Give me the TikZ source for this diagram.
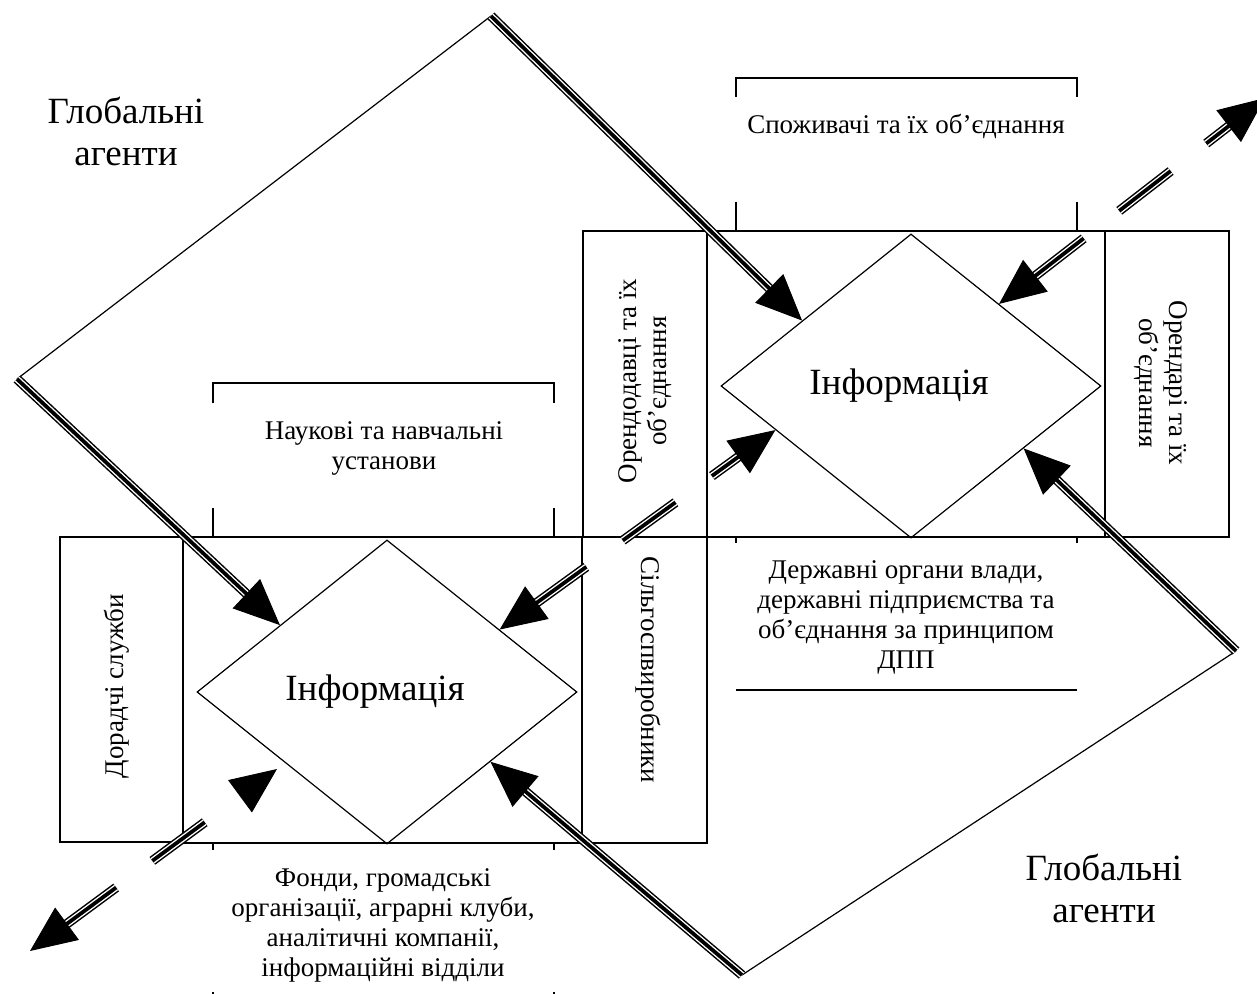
\documentclass[tikz,border=0pt]{standalone}
\usepackage{fontspec}
\setmainfont{Liberation Serif}
\usetikzlibrary{shapes.geometric,arrows.meta,calc}

\tikzset{
  thinline/.style={line width=0.6pt},
  infod/.style={draw, diamond, line width=0.6pt, minimum width=190pt, minimum height=152pt, inner sep=0pt, aspect=1.25},
  txts/.style={font=\fontsize{13.5}{15}\selectfont, align=center, inner sep=0pt},
  txtb/.style={font=\fontsize{18.5}{21}\selectfont, align=center, inner sep=0pt},
  tripl/.style={line width=4.8pt, postaction={draw, white, line width=3.3pt}, postaction={draw, black, line width=1.9pt}},
  brk/.style={dash pattern=on 31pt off 22.5pt on 32.5pt off 22.5pt},
  tiphead/.style={-{Triangle[length=23pt,width=20pt]}, line width=0.5pt},
}

\begin{document}
\begin{tikzpicture}[x=0.5pt,y=-0.5pt]
\path[use as bounding box, fill=white] (0,0) rectangle (1257,994);

% lower group of boxes
\draw[thinline] (60,537) rectangle (183,842);
\draw[thinline] (183,537) rectangle (582,843);
\draw[thinline] (582,537) rectangle (707,843);
% upper group of boxes
\draw[thinline] (583,231) rectangle (707,537);
\draw[thinline] (707,231) rectangle (1105,537);
\draw[thinline] (1105,231) rectangle (1229,537);

% brackets
\draw[thinline] (736,97) -- (736,78) -- (1077,78) -- (1077,97);
\draw[thinline] (736,202) -- (736,231);
\draw[thinline] (1077,202) -- (1077,231);
\draw[thinline] (213,403) -- (213,383) -- (554,383) -- (554,403);
\draw[thinline] (213,508) -- (213,537);
\draw[thinline] (554,508) -- (554,537);
\draw[thinline] (736,537) -- (736,543);
\draw[thinline] (1077,537) -- (1077,543);
\draw[thinline] (736,690) -- (1077,690);
\draw[thinline] (213,843) -- (213,850);
\draw[thinline] (554,843) -- (554,850);
\draw[thinline] (213,992) -- (213,1000);
\draw[thinline] (554,992) -- (554,1000);

% information diamonds
\node[infod, label={[txtb, xshift=-6pt]center:Інформація}] (infoR) at (911,386) {};
\node[infod, label={[txtb, xshift=-6pt]center:Інформація}] (infoL) at (387,692) {};

% texts
\node[txtb] (gaTL) at (126,131) {Глобальні\\агенти};
\node[txtb] (gaBR) at (1104,888) {Глобальні\\агенти};
\node[txts] (spoz) at (906,126) {Споживачі та їх об’єднання};
\node[txts] (nauk) at (384,448) {Наукові та навчальні\\установи};
\node[txts] (derzh) at (906,617) {Державні органи влади,\\державні підприємства та\\об’єднання за принципом\\ДПП};
\node[txts] (fond) at (383,925) {Фонди, громадські\\організації, аграрні клуби,\\аналітичні компанії,\\інформаційні відділи};
\node[txts, rotate=90] (orendod) at (645,381) {Орендодавці та їх\\об’єднання};
\node[txts, rotate=-90] (orendar) at (1161,383) {Орендарі та їх\\об’єднання};
\node[txts, rotate=90] (dorad) at (117,686) {Дорадчі служби};
\node[txts, rotate=-90] (silg) at (648,670) {Сільгоспвиробники};

% global agents
\coordinate (gaL) at (17,379);
\coordinate (gaT) at (491,16);
\coordinate (gbR) at (1236,651);
\coordinate (gbB) at (742,975);
\coordinate (outTR) at (1265,98);
\coordinate (outBL) at (30,951);
\coordinate (tipBL) at (277,769);

\draw[thinline] (gaL) -- (gaT);
\draw[thinline] (gbR) -- (gbB);

\draw[tripl, shorten >=20pt] (gaT) -- (infoR.149);
\draw[tiphead] ($(infoR.149)!23pt!(gaT)$) -- (infoR.149);
\draw[tripl, shorten >=20pt] (gaL) -- (infoL.148);
\draw[tiphead] ($(infoL.148)!23pt!(gaL)$) -- (infoL.148);
\draw[tripl, shorten >=20pt] (gbR) -- (infoR.-29);
\draw[tiphead] ($(infoR.-29)!23pt!(gbR)$) -- (infoR.-29);
\draw[tripl, shorten >=20pt] (gbB) -- (infoL.-34);
\draw[tiphead] ($(infoL.-34)!23pt!(gbB)$) -- (infoL.-34);

% broken links
\draw[tripl, brk, shorten <=22.5pt, shorten >=22.5pt] (infoR.43) -- (outTR);
\draw[tiphead] ($(infoR.43)!23pt!(outTR)$) -- (infoR.43);
\draw[tiphead] ($(outTR)!23pt!(infoR.43)$) -- (outTR);

\draw[tripl, brk, shorten <=22.5pt, shorten >=22.5pt] (infoL.29) -- (infoR.198);
\draw[tiphead] ($(infoL.29)!23pt!(infoR.198)$) -- (infoL.29);
\draw[tiphead] ($(infoR.198)!23pt!(infoL.29)$) -- (infoR.198);

\draw[tripl, brk, shorten <=22.5pt, shorten >=22.5pt] (outBL) -- (tipBL);
\draw[tiphead] ($(outBL)!23pt!(tipBL)$) -- (outBL);
\draw[tiphead] ($(tipBL)!23pt!(outBL)$) -- (tipBL);

\end{tikzpicture}
\end{document}
